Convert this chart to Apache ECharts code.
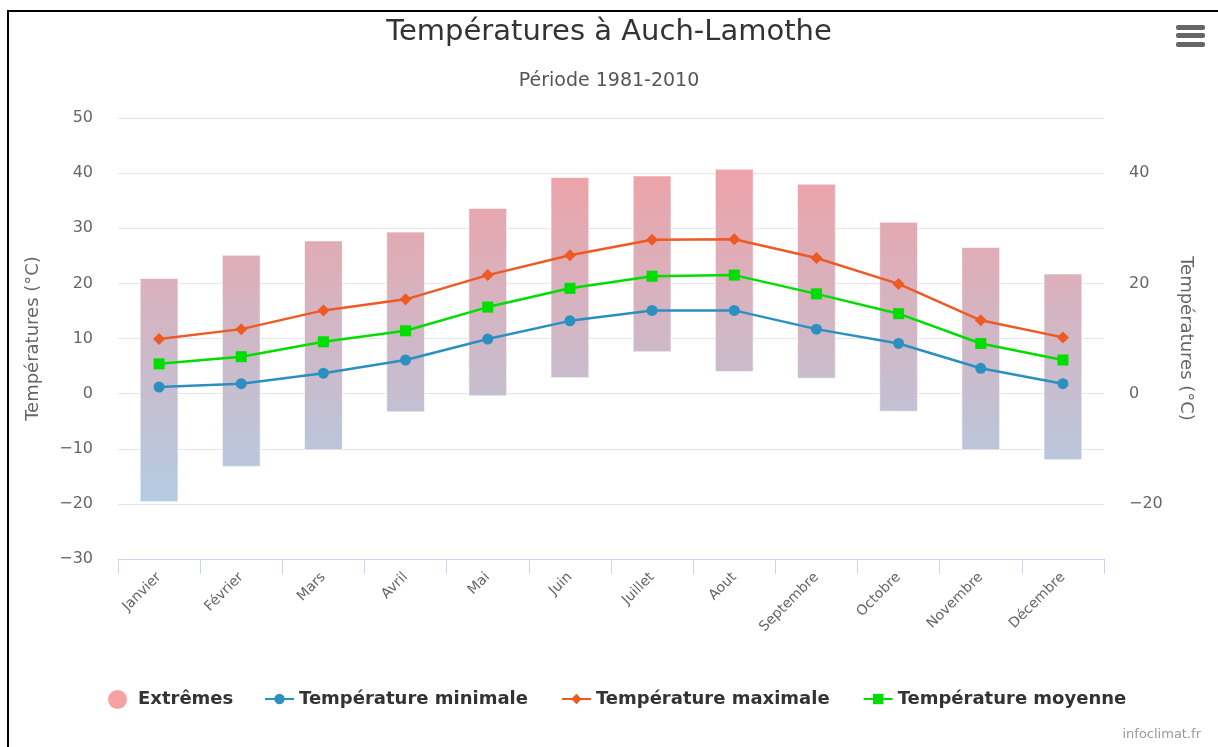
<!DOCTYPE html>
<html>
<head>
<meta charset="utf-8">
<script src="https://cdn.jsdelivr.net/npm/echarts@6/dist/echarts.min.js"></script>
<style>
html,body{margin:0;padding:0;background:#fff;}
#chart{width:1218px;height:747px;}
</style>
</head>
<body>
<div id="chart"></div>
<script>
const months = ['Janvier','Février','Mars','Avril','Mai','Juin','Juillet','Aout','Septembre','Octobre','Novembre','Décembre'];
const extremeLow  = [-19.6,-13.2,-10.2,-3.3,-0.4,2.9,7.6,4.0,2.8,-3.2,-10.2,-12.0];
const extremeHigh = [20.9,25.1,27.7,29.3,33.6,39.2,39.5,40.7,38.0,31.1,26.5,21.7];
const tMin  = [1.2,1.8,3.7,6.1,9.9,13.2,15.1,15.1,11.7,9.1,4.6,1.8];
const tMax  = [9.9,11.7,15.1,17.1,21.5,25.1,27.9,28.0,24.6,19.9,13.3,10.2];
const tMean = [5.4,6.7,9.4,11.4,15.7,19.1,21.3,21.5,18.1,14.5,9.1,6.1];

const chart = echarts.init(document.getElementById('chart'), null, {renderer:'canvas'});
const FONT = 'DejaVu Sans';
const gridTop = 118, gridBottomPx = 559;
const barGradient = new echarts.graphic.LinearGradient(0, gridTop, 0, gridBottomPx, [
  {offset:0, color:'#f79c9f'},
  {offset:1, color:'#a9d3ee'}
], true);
const minus = v => String(v).replace('-', '\u2212');
const legendText = {fontFamily:FONT, fontSize:18, fontWeight:'bold', color:'#333'};

const option = {
  animation:false,
  backgroundColor:'#fff',
  title:[
    {text:'Températures à Auch-Lamothe', left:'center', top:13,
     textStyle:{fontFamily:FONT, fontSize:29, fontWeight:'normal', color:'#333'}},
    {text:'Période 1981-2010', left:'center', top:67,
     textStyle:{fontFamily:FONT, fontSize:19, fontWeight:'normal', color:'#555'}},
    {text:'infoclimat.fr', right:12, top:723,
     textStyle:{fontFamily:FONT, fontSize:13, fontWeight:'normal', color:'#999'}}
  ],
  legend:[
    {top:685, left:103, itemWidth:31, itemHeight:19, textStyle:legendText,
     data:[{name:'Extrêmes', icon:'circle', itemStyle:{color:'#f7a1a4'}}]},
    {top:685, left:259, itemGap:33, itemWidth:29, itemHeight:13, textStyle:legendText,
     data:['Température minimale','Température maximale','Température moyenne']}
  ],
  grid:{left:118, right:114, top:gridTop, bottom:747-gridBottomPx},
  xAxis:{
    type:'category', data:months, boundaryGap:true,
    axisLine:{onZero:false, lineStyle:{color:'#ccd6eb', width:1}},
    axisTick:{show:true, length:15, lineStyle:{color:'#ccd6eb'}, alignWithLabel:false},
    axisLabel:{rotate:45, fontFamily:FONT, fontSize:14, color:'#666', margin:16, interval:0}
  },
  yAxis:[
    {type:'value', min:-30, max:50, interval:10,
     name:'Températures (°C)', nameLocation:'middle', nameGap:76, nameRotate:90,
     nameTextStyle:{fontFamily:FONT, fontSize:18, color:'#666'},
     axisLine:{show:false}, axisTick:{show:false},
     axisLabel:{fontFamily:FONT, fontSize:16, color:'#666', margin:25, formatter:minus},
     splitLine:{lineStyle:{color:'#e6e6e6', width:1}}},
    {type:'value', min:-30, max:50, interval:10, position:'right',
     name:'Températures (°C)', nameLocation:'middle', nameGap:73, nameRotate:-90,
     nameTextStyle:{fontFamily:FONT, fontSize:18, color:'#666'},
     axisLine:{show:false}, axisTick:{show:false},
     axisLabel:{fontFamily:FONT, fontSize:16, color:'#666', margin:25,
       formatter:v => (v % 20 === 0 && v >= -20 && v <= 40) ? minus(v) : ''},
     splitLine:{show:false}}
  ],
  series:[
    {
      name:'Extrêmes', type:'custom', yAxisIndex:0,
      itemStyle:{color:'#f7a1a4'},
      data: months.map((m,i)=>[i, extremeLow[i], extremeHigh[i]]),
      encode:{x:0, y:[1,2]},
      renderItem:function(params, api){
        const i = api.value(0);
        const lo = api.coord([i, api.value(1)]);
        const hi = api.coord([i, api.value(2)]);
        const w = api.size([1,0])[0] * 0.46;
        return {
          type:'rect',
          shape:{x:lo[0]-w/2, y:hi[1], width:w, height:lo[1]-hi[1]},
          style:{fill:barGradient, stroke:'rgba(255,255,255,0.6)', lineWidth:1}
        };
      },
      z:1
    },
    {
      name:'Température minimale', type:'line', data:tMin,
      symbol:'circle', symbolSize:11,
      lineStyle:{color:'#2b90c0', width:2.5}, itemStyle:{color:'#2b90c0'}, z:3
    },
    {
      name:'Température maximale', type:'line', data:tMax,
      symbol:'diamond', symbolSize:12,
      lineStyle:{color:'#ee5a24', width:2.5}, itemStyle:{color:'#ee5a24'}, z:3
    },
    {
      name:'Température moyenne', type:'line', data:tMean,
      symbol:'rect', symbolSize:11,
      lineStyle:{color:'#00dd00', width:2.5}, itemStyle:{color:'#00dd00'}, z:4
    }
  ],
  graphic:[
    {type:'rect', shape:{x:8, y:11, width:1400, height:900}, style:{fill:'none', stroke:'#000', lineWidth:2}, z:100},
    {type:'rect', shape:{x:1176, y:25, width:29, height:5, r:2}, style:{fill:'#666'}},
    {type:'rect', shape:{x:1176, y:33, width:29, height:5, r:2}, style:{fill:'#666'}},
    {type:'rect', shape:{x:1176, y:42, width:29, height:5, r:2}, style:{fill:'#666'}}
  ]
};
chart.setOption(option);
</script>
</body>
</html>
